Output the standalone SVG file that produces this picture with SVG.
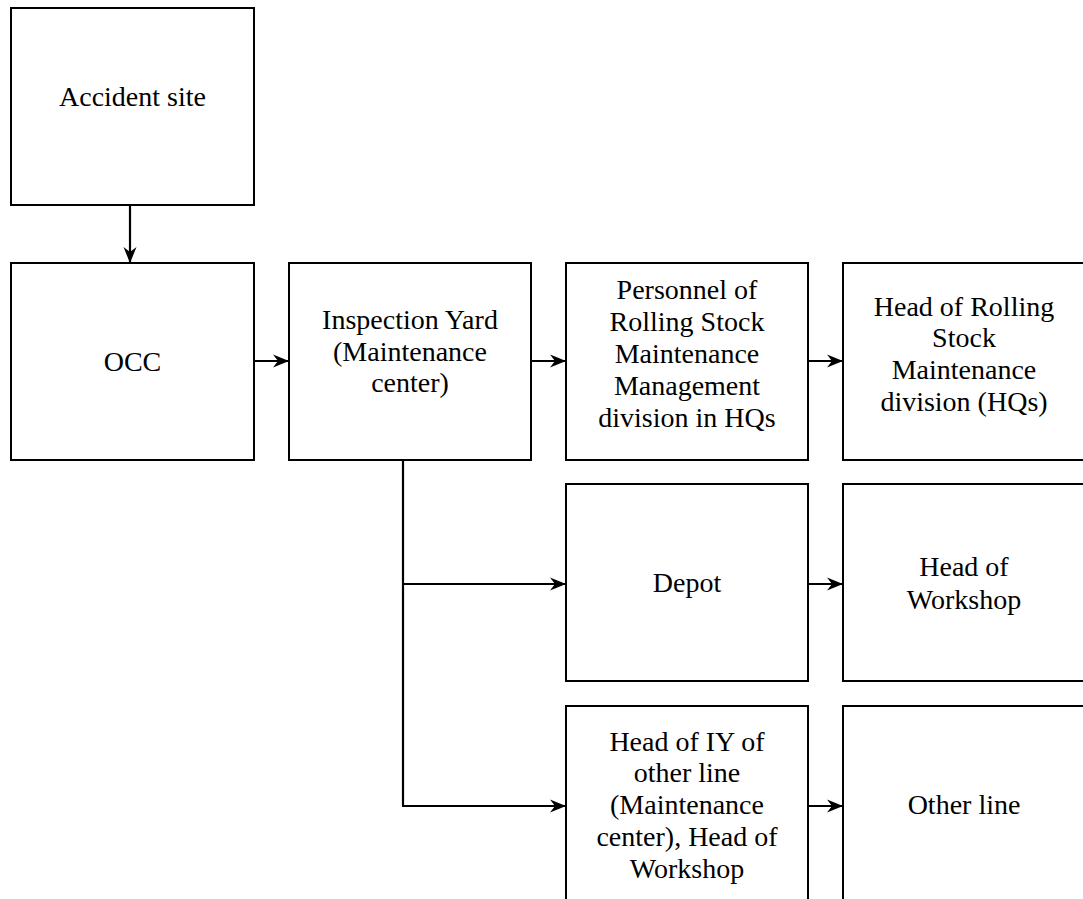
<svg xmlns="http://www.w3.org/2000/svg" width="1083" height="899" viewBox="0 0 1083 899">
  <style>
    .box { fill: #ffffff; stroke: #000000; stroke-width: 2; }
    .lbl { font-family: "Liberation Serif", "Times New Roman", serif; font-size: 28px; fill: #000000; text-anchor: middle; }
    .wire { fill: none; stroke: #000000; stroke-width: 2.2; }
  </style>
  <defs>
    <marker id="head" markerUnits="userSpaceOnUse" markerWidth="18" markerHeight="16" refX="16" refY="8" orient="auto" viewBox="0 0 18 16">
      <path d="M17,8 L1,1.5 L6,8 L1,14.5 Z" fill="#000000"/>
    </marker>
  </defs>
  <rect width="1083" height="899" fill="#ffffff"/>

  <g id="connectors">
    <path class="wire" d="M130,205 V262" marker-end="url(#head)"/>
    <path class="wire" d="M254,361 H288" marker-end="url(#head)"/>
    <path class="wire" d="M531,361 H565" marker-end="url(#head)"/>
    <path class="wire" d="M808,361 H842" marker-end="url(#head)"/>
    <path class="wire" d="M403,460 V806"/>
    <path class="wire" d="M402,584 H565" marker-end="url(#head)"/>
    <path class="wire" d="M402,806 H565" marker-end="url(#head)"/>
    <path class="wire" d="M808,584 H842" marker-end="url(#head)"/>
    <path class="wire" d="M808,806 H842" marker-end="url(#head)"/>
  </g>

  <g id="accident-site">
    <rect class="box" x="11" y="8" width="243" height="197"/>
    <text class="lbl" x="132.5" y="106">Accident site</text>
  </g>

  <g id="occ">
    <rect class="box" x="11" y="263" width="243" height="197"/>
    <text class="lbl" x="132.5" y="371">OCC</text>
  </g>

  <g id="inspection-yard">
    <rect class="box" x="289" y="263" width="242" height="197"/>
    <text class="lbl" x="410" y="329">Inspection Yard</text>
    <text class="lbl" x="410" y="361">(Maintenance</text>
    <text class="lbl" x="410" y="392">center)</text>
  </g>

  <g id="personnel-hq">
    <rect class="box" x="566" y="263" width="242" height="197"/>
    <text class="lbl" x="687" y="299">Personnel of</text>
    <text class="lbl" x="687" y="331">Rolling Stock</text>
    <text class="lbl" x="687" y="363">Maintenance</text>
    <text class="lbl" x="687" y="395">Management</text>
    <text class="lbl" x="687" y="427">division in HQs</text>
  </g>

  <g id="head-rolling-stock">
    <rect class="box" x="843" y="263" width="243" height="197"/>
    <text class="lbl" x="964" y="316">Head of Rolling</text>
    <text class="lbl" x="964" y="347">Stock</text>
    <text class="lbl" x="964" y="379">Maintenance</text>
    <text class="lbl" x="964" y="411">division (HQs)</text>
  </g>

  <g id="depot">
    <rect class="box" x="566" y="484" width="242" height="197"/>
    <text class="lbl" x="687" y="592">Depot</text>
  </g>

  <g id="head-workshop">
    <rect class="box" x="843" y="484" width="243" height="197"/>
    <text class="lbl" x="964" y="576">Head of</text>
    <text class="lbl" x="964" y="609">Workshop</text>
  </g>

  <g id="head-iy-other-line">
    <rect class="box" x="566" y="706" width="242" height="197"/>
    <text class="lbl" x="687" y="751">Head of IY of</text>
    <text class="lbl" x="687" y="782">other line</text>
    <text class="lbl" x="687" y="814">(Maintenance</text>
    <text class="lbl" x="687" y="846">center), Head of</text>
    <text class="lbl" x="687" y="878">Workshop</text>
  </g>

  <g id="other-line">
    <rect class="box" x="843" y="706" width="243" height="197"/>
    <text class="lbl" x="964" y="814">Other line</text>
  </g>
</svg>
